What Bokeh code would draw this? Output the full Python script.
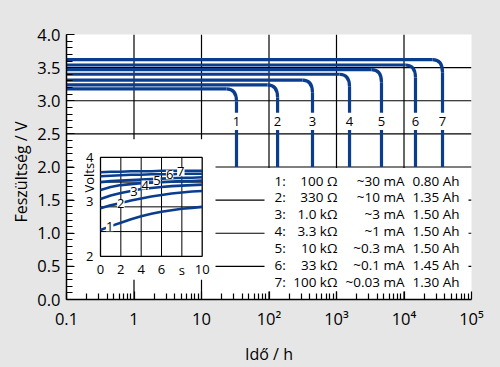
from math import pi
from bokeh.plotting import figure
from bokeh.models import (Range1d, FixedTicker, LinearScale, LabelSet, Title,
                          ColumnDataSource, PrintfTickFormatter)
from bokeh.embed import file_html
from bokeh.resources import INLINE
from bokeh.core.properties import value

FONT = "Open Sans"
BLUE = "#0b3d8f"
BG = "#e6e6e6"

# ---------------- main chart data ----------------
curve_ids = ["1", "2", "3", "4", "5", "6", "7"]
plateau_v = [3.18, 3.24, 3.31, 3.40, 3.47, 3.54, 3.62]
knee_time = [23.5, 95, 315, 1110, 3300, 10500, 26500]
end_time = [33, 134, 441, 1560, 4640, 14800, 37200]
knee_end_v = [2.99, 3.05, 3.12, 3.21, 3.28, 3.35, 3.43]
cutoff_v = 2.0
label_v = 2.68
gap_top_v = 2.82
gap_bottom_v = 2.56

# legend table
resistances = ["100 Ω", "330 Ω", "1.0 kΩ", "3.3 kΩ", "10 kΩ", "33 kΩ", "100 kΩ"]
currents = ["~30 mA", "~10 mA", "~3 mA", "~1 mA", "~0.3 mA", "~0.1 mA", "~0.03 mA"]
capacities = ["0.80 Ah", "1.35 Ah", "1.50 Ah", "1.50 Ah", "1.50 Ah", "1.45 Ah", "1.30 Ah"]

# axes
x_ticks = [0.1, 1, 10, 100, 1000, 10000, 100000]
x_tick_labels = ["0.1", "1", "10", "10²", "10³", "10⁴", "10⁵"]
y_ticks = [0, 0.5, 1.0, 1.5, 2.0, 2.5, 3.0, 3.5, 4.0]
grid_x = [1, 10, 100, 1000, 10000]
grid_y = [0.5, 1.0, 1.5, 2.0, 2.5, 3.0, 3.5]
x_title = "Idő / h"
y_title = "Feszültség / V"

# ---------------- inset data (first 10 s) ----------------
inset_s = [0, 1, 2, 3, 4, 5, 6, 7, 8, 9, 10]
inset_v = [
    [2.53, 2.61, 2.68, 2.75, 2.81, 2.86, 2.90, 2.93, 2.96, 2.98, 3.00],
    [2.97, 3.03, 3.08, 3.13, 3.17, 3.21, 3.24, 3.27, 3.29, 3.31, 3.32],
    [3.16, 3.23, 3.28, 3.32, 3.36, 3.38, 3.40, 3.42, 3.43, 3.44, 3.45],
    [3.34, 3.40, 3.44, 3.46, 3.48, 3.49, 3.50, 3.51, 3.52, 3.52, 3.53],
    [3.50, 3.52, 3.53, 3.54, 3.55, 3.56, 3.57, 3.58, 3.59, 3.59, 3.60],
    [3.62, 3.63, 3.64, 3.65, 3.65, 3.66, 3.66, 3.66, 3.67, 3.67, 3.67],
    [3.70, 3.71, 3.71, 3.72, 3.72, 3.72, 3.73, 3.73, 3.73, 3.73, 3.73],
]
inset_label_s = [0.9, 2.0, 3.3, 4.4, 5.55, 6.8, 7.9]
inset_label_v = [2.60, 3.07, 3.31, 3.44, 3.53, 3.65, 3.71]
inset_xticks = [0, 2, 4, 6, 8, 10]
inset_xtick_labels = ["0", "2", "4", "6", "s", "10"]
inset_yticks = [4, 3, 2]
inset_ytick_labels = ["4", "3", "2"]

# ---------------- figure ----------------
p = figure(width=500, height=367, x_axis_type="log",
           x_range=Range1d(0.1, 1e5), y_range=Range1d(0, 4),
           output_backend="svg", toolbar_location=None,
           min_border_left=66, min_border_right=29,
           min_border_top=34, min_border_bottom=65)
p.grid.visible = False
p.outline_line_color = None
p.background_fill_color = "white"
p.border_fill_color = BG

p.extra_x_ranges = {"inset": Range1d(-3.343, 36.48), "px": Range1d(0, 405)}
p.extra_y_ranges = {"inset": Range1d(1.126, 6.486), "px": Range1d(0, 268)}
p.extra_x_scales = {"inset": LinearScale(), "px": LinearScale()}
p.extra_y_scales = {"inset": LinearScale(), "px": LinearScale()}

for ax in (p.xaxis[0], p.yaxis[0]):
    ax.axis_line_color = "black"
    ax.axis_line_width = 1.5
    ax.major_tick_in = 8
    ax.major_tick_out = 0
    ax.minor_tick_in = 6
    ax.minor_tick_out = 0
    ax.major_tick_line_width = 1.2
    ax.minor_tick_line_width = 1.2
    ax.major_tick_line_color = "black"
    ax.minor_tick_line_color = "black"
    ax.major_label_text_font = FONT
    ax.major_label_text_font_size = "16.5px"
    ax.major_label_text_color = "black"

p.xaxis.ticker = FixedTicker(ticks=x_ticks,
                             minor_ticks=[m * 10.0 ** e for e in range(-1, 5) for m in range(2, 10)])
p.xaxis.major_label_overrides = dict(zip(x_ticks, x_tick_labels))
p.xaxis.major_label_standoff = 7
p.xaxis.axis_label = x_title
p.xaxis.axis_label_standoff = 10
p.xaxis.axis_label_text_font = FONT
p.xaxis.axis_label_text_font_size = "16px"
p.xaxis.axis_label_text_font_style = "normal"
p.xaxis.axis_label_text_color = "black"

p.yaxis.ticker = FixedTicker(ticks=y_ticks, minor_ticks=[i / 10 for i in range(41)])
p.yaxis.formatter = PrintfTickFormatter(format="%.1f")
p.yaxis.major_label_standoff = 6

p.add_layout(Title(text=y_title, align="left", offset=77, standoff=6,
                   text_font=FONT, text_font_size="16px", text_font_style="normal",
                   text_color="black"), "left")

# main grid
p.segment(x0=grid_x, y0=0, x1=grid_x, y1=4, line_color="black", line_width=1.2)
p.segment(x0=0.1, y0=grid_y, x1=1e5, y1=grid_y, line_color="black", line_width=1.2)

# main curves
src = ColumnDataSource(dict(id=curve_ids, v=plateau_v, tk=knee_time, te=end_time, ve=knee_end_v))
p.segment(x0=0.1, y0="v", x1="tk", y1="v", source=src, line_color=BLUE, line_width=3.2)
p.quadratic(x0="tk", y0="v", x1="te", y1="ve", cx="te", cy="v", source=src,
            line_color=BLUE, line_width=3.2)
p.segment(x0="te", y0="ve", x1="te", y1=gap_top_v, source=src, line_color=BLUE, line_width=3.2)
p.segment(x0="te", y0=gap_bottom_v, x1="te", y1=cutoff_v, source=src, line_color=BLUE, line_width=3.2)
p.text(x="te", y=label_v, text="id", source=src, text_align="center", text_baseline="middle",
       text_font=value(FONT), text_font_size="13px", text_color="black")

# white boxes (inset and legend background)
p.quad(left=[7, 198], right=[149, 402], bottom=[20, 8], top=[162, 133],
       x_range_name="px", y_range_name="px", fill_color="white", line_color=None)

# ---------------- inset ----------------
p.segment(x0=[2, 4, 6, 8], y0=2, x1=[2, 4, 6, 8], y1=4, x_range_name="inset", y_range_name="inset",
          line_color="black", line_width=1.0)
p.segment(x0=0, y0=[2.5, 3.0, 3.5], x1=10, y1=[2.5, 3.0, 3.5], x_range_name="inset",
          y_range_name="inset", line_color="black", line_width=1.0)
p.quad(left=0, right=10, bottom=2, top=4, x_range_name="inset", y_range_name="inset",
       fill_color=None, line_color="black", line_width=1.3)
p.multi_line(xs=[inset_s] * len(inset_v), ys=inset_v, x_range_name="inset", y_range_name="inset",
             line_color=BLUE, line_width=2.6)
lab_src = ColumnDataSource(dict(x=inset_label_s, y=inset_label_v, t=curve_ids))
p.add_layout(LabelSet(x="x", y="y", text="t", source=lab_src, x_range_name="inset",
                      y_range_name="inset", text_align="center", text_baseline="middle",
                      text_font=value(FONT), text_font_size="13px", text_color="black",
                      background_fill_color="white"))
p.text(x=inset_xticks, y=1.73, text=inset_xtick_labels, x_range_name="inset", y_range_name="inset",
       text_align="center", text_baseline="middle", text_font=value(FONT),
       text_font_size="13px", text_color="black")
p.text(x=-1.05, y=[4.0, 3.1, 2.0], text=inset_ytick_labels, x_range_name="inset",
       y_range_name="inset", text_align="center", text_baseline="middle",
       text_font=value(FONT), text_font_size="13px", text_color="black")
p.text(x=-1.15, y=3.59, text=["Volts"], angle=pi / 2, x_range_name="inset", y_range_name="inset",
       text_align="center", text_baseline="middle", text_font=value(FONT),
       text_font_size="13px", text_color="black")

# ---------------- legend table ----------------
rows = list(range(len(curve_ids)))
row_y = [120.3 - i * 17.05 for i in rows]
tbl = ColumnDataSource(dict(y=row_y, n=[c + ":" for c in curve_ids], r=resistances,
                            c=currents, a=capacities))
for col, xpos, align in (("n", 208, "left"), ("r", 271, "right"), ("c", 338, "right"),
                         ("a", 393, "right")):
    p.text(x=xpos, y="y", text=col, source=tbl, x_range_name="px", y_range_name="px",
           text_align=align, text_baseline="middle", text_font=value(FONT),
           text_font_size="13.5px", text_color="black")

html = file_html(p, INLINE, title="chart")
html = html.replace("</head>", "<style>html,body{background:%s;}</style></head>" % BG, 1)
open("out.html", "w").write(html)
